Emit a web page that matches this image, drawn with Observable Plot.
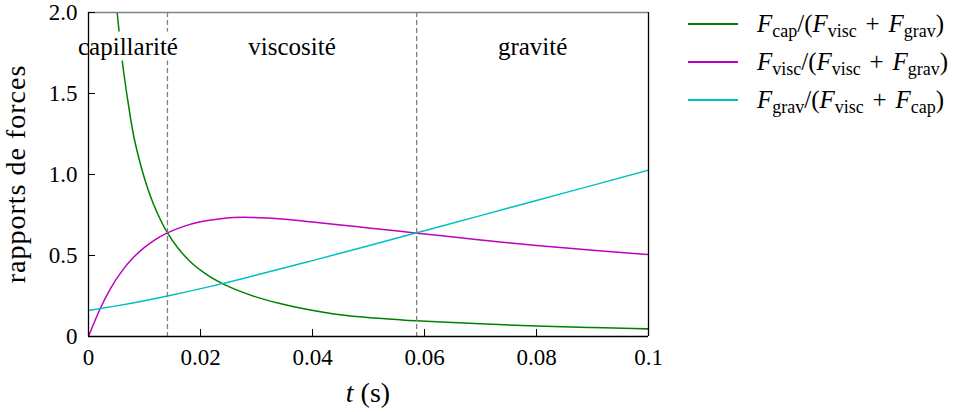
<!DOCTYPE html>
<html><head><meta charset="utf-8">
<script src="https://cdn.jsdelivr.net/npm/d3@7"></script>
<script src="https://cdn.jsdelivr.net/npm/@observablehq/plot@0.6"></script>
<style>
body{margin:0;background:#fff;}
#wrap{position:relative;width:962px;height:412px;font-family:"Liberation Serif",serif;color:#000;}
#wrap svg, #wrap svg text{font-family:"Liberation Serif",serif !important;}
#legend{position:absolute;left:688px;top:5px;font-size:25px;font-family:"Liberation Serif",serif;}
.row{display:flex;align-items:center;height:38px;white-space:nowrap;}
.sw{display:inline-block;width:50px;height:1.5px;margin-right:19px;}
.row i{font-style:italic;}
.row sub{font-size:0.72em;vertical-align:-0.28em;line-height:0;}
.pl{margin:0 0.35em;}
</style></head>
<body><div id="wrap"></div>
<script>
// ---- data ----
const greenT = [0.00512, 0.0060, 0.0070, 0.0080, 0.0090, 0.0100, 0.0115, 0.0130, 0.0141, 0.0160, 0.0180, 0.0210, 0.0240, 0.0270, 0.0300, 0.0340, 0.0380, 0.0430, 0.0490, 0.0560, 0.0630, 0.0700, 0.0800, 0.0900, 0.1000];
const greenV = [2.00, 1.71, 1.46, 1.25, 1.10, 0.975, 0.825, 0.71, 0.640, 0.545, 0.468, 0.385, 0.325, 0.280, 0.243, 0.205, 0.174, 0.144, 0.120, 0.102, 0.089, 0.078, 0.065, 0.055, 0.047];

const magentaT = [0, 0.0010, 0.0020, 0.0040, 0.0060, 0.0080, 0.0100, 0.0120, 0.0141, 0.0170, 0.0200, 0.0236, 0.0277, 0.0307, 0.0350, 0.0400, 0.0450, 0.0500, 0.0587, 0.0700, 0.0800, 0.0900, 0.1000];
const magentaV = [0, 0.085, 0.165, 0.300, 0.405, 0.487, 0.550, 0.600, 0.640, 0.680, 0.708, 0.727, 0.736, 0.733, 0.724, 0.707, 0.689, 0.670, 0.638, 0.596, 0.561, 0.532, 0.506];

const cyanT = [0, 0.0050, 0.0100, 0.0141, 0.0220, 0.0300, 0.0400, 0.0500, 0.0600, 0.0700, 0.0800, 0.0900, 0.1000];
const cyanV = [0.160, 0.189, 0.221, 0.250, 0.311, 0.379, 0.4685, 0.560, 0.653, 0.746, 0.840, 0.933, 1.027];

const boundaries = [0.0141, 0.0586];
const regionNames = ["capillarité", "viscosité", "gravité"];
const regionLabelY = 1.79;

const xTicks = [0, 0.02, 0.04, 0.06, 0.08, 0.1];
const xTickLabels = ["0", "0.02", "0.04", "0.06", "0.08", "0.1"];
const yTicks = [0, 0.5, 1.0, 1.5, 2.0];
const yTickLabels = ["0", "0.5", "1.0", "1.5", "2.0"];

const seriesNames = ["cap", "visc", "grav"];
const seriesColors = ["#008000", "#bf00bf", "#00bfbf"];
const legendTerms = [
  ["cap", "visc", "grav"],
  ["visc", "visc", "grav"],
  ["grav", "visc", "cap"]
];

// ---- build tables ----
const toRows = (T, V, s) => T.map((t, i) => ({t, v: V[i], s}));
const rows = [
  ...toRows(greenT, greenV, "cap"),
  ...toRows(magentaT, magentaV, "visc"),
  ...toRows(cyanT, cyanV, "grav")
];
const edges = [0, ...boundaries, 0.1];
const regions = regionNames.map((name, i) => ({name, x: (edges[i] + edges[i + 1]) / 2, y: regionLabelY}));

const chart = Plot.plot({
  width: 962, height: 412,
  marginLeft: 88, marginRight: 314, marginTop: 12, marginBottom: 76,
  style: {fontFamily: "Liberation Serif, serif", fontSize: "23px", color: "#000", background: "#fff", overflow: "visible"},
  x: {domain: [0, 0.1]},
  y: {domain: [0, 2]},
  color: {domain: seriesNames, range: seriesColors},
  marks: [
    Plot.line(rows, {x: "t", y: "v", z: "s", stroke: "s", strokeWidth: 1.5, curve: "monotone-x", clip: true}),
    Plot.ruleX(boundaries, {stroke: "#808080", strokeWidth: 1.3, strokeDasharray: "5,3"}),
    Plot.text(regions, {x: "x", y: "y", text: "name", fontSize: 25, fill: "#000", className: "region"}),
    Plot.ruleY([2], {stroke: "#808080", strokeWidth: 1.3}),
    Plot.ruleX([0, 0.1], {stroke: "#000", strokeWidth: 1.3}),
    Plot.ruleY([0], {stroke: "#000", strokeWidth: 1.3}),
    Plot.axisX({ticks: xTicks, tickFormat: d => xTickLabels[xTicks.indexOf(d)], tickSize: -7, tickPadding: 19, label: null, stroke: "#000"}),
    Plot.axisY({ticks: yTicks, tickFormat: d => yTickLabels[yTicks.indexOf(d)], tickSize: -7, tickPadding: 18, label: null, stroke: "#000"})
  ]
});

const wrap = document.getElementById("wrap");
wrap.appendChild(chart);

// white boxes behind region labels
d3.select(chart).selectAll("g.region text, g[aria-label=text] text").each(function() {
  const b = this.getBBox();
  const tr = this.getAttribute("transform");
  const r = document.createElementNS("http://www.w3.org/2000/svg", "rect");
  r.setAttribute("x", b.x - 4); r.setAttribute("y", b.y - 1);
  r.setAttribute("width", b.width + 8); r.setAttribute("height", b.height + 2);
  r.setAttribute("fill", "#fff");
  if (tr) r.setAttribute("transform", tr);
  this.parentNode.insertBefore(r, this);
});

// axis labels
const xs = chart.scale("x"), ys = chart.scale("y");
const svg = d3.select(chart);
svg.append("text")
  .attr("x", xs.apply(0.05)).attr("y", 402)
  .attr("text-anchor", "middle").attr("font-size", 28).attr("fill", "#000")
  .attr("font-family", "Liberation Serif, serif")
  .html('<tspan font-style="italic">t</tspan> (s)');
svg.append("text")
  .attr("transform", `translate(25,${(ys.apply(0) + ys.apply(2)) / 2}) rotate(-90)`)
  .attr("text-anchor", "middle").attr("font-size", 28).attr("letter-spacing", "1px").attr("fill", "#000")
  .attr("font-family", "Liberation Serif, serif")
  .text("rapports de forces");

// legend
const leg = document.createElement("div");
leg.id = "legend";
leg.innerHTML = legendTerms.map((p, i) =>
  `<div class="row"><span class="sw" style="background:${seriesColors[i]}"></span>` +
  `<span><i>F</i><sub>${p[0]}</sub>/(<i>F</i><sub>${p[1]}</sub><span class="pl">+</span><i>F</i><sub>${p[2]}</sub>)</span></div>`
).join("");
wrap.appendChild(leg);
</script>
</body></html>
